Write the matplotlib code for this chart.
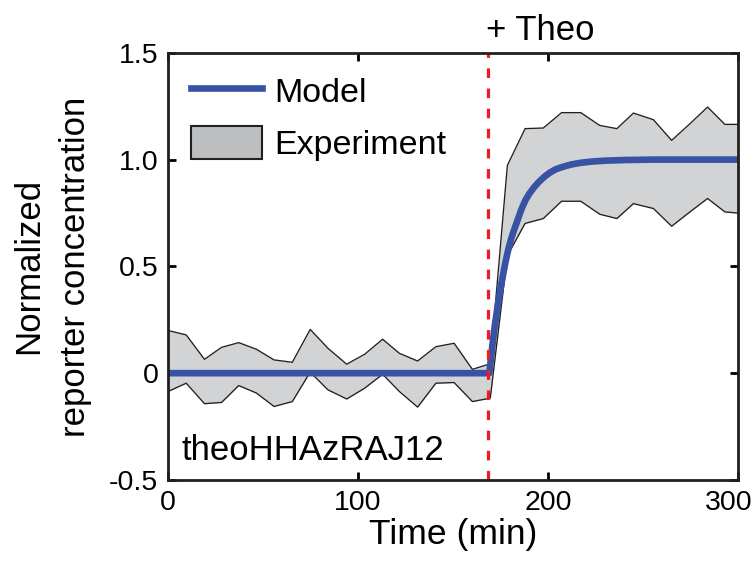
import matplotlib
matplotlib.use('Agg')
import matplotlib.pyplot as plt
import matplotlib.transforms as mtransforms
from matplotlib.patches import Patch
from matplotlib.lines import Line2D

plt.rcParams['font.family'] = ['Liberation Sans', 'DejaVu Sans']

# experiment band (mean +/- spread)
exp_time = [0, 9.6, 19.2, 28.2, 37.2, 46.5, 55.8, 65.4, 74.8, 84.1, 94.0, 103.5,
            112.9, 121.7, 131.3, 140.9, 150.5, 160.1, 169.5,
            178.5, 187.8, 197.4, 207.0, 217.1, 227.1, 236.1, 244.8, 255.3,
            264.9, 274.5, 283.8, 292.9, 302.0]
exp_upper = [0.200, 0.179, 0.065, 0.121, 0.143, 0.112, 0.062, 0.051, 0.205, 0.117,
             0.042, 0.089, 0.159, 0.093, 0.057, 0.124, 0.140, 0.018, 0.044,
             0.973, 1.145, 1.148, 1.220, 1.220, 1.160, 1.145, 1.218, 1.187,
             1.090, 1.168, 1.246, 1.165, 1.165]
exp_lower = [-0.086, -0.047, -0.143, -0.137, -0.058, -0.093, -0.156, -0.133, 0.005,
             -0.078, -0.121, -0.070, -0.005, -0.086, -0.159, -0.047, -0.044, -0.133,
             -0.117,
             0.55, 0.701, 0.724, 0.805, 0.805, 0.744, 0.724, 0.794, 0.771,
             0.688, 0.755, 0.818, 0.755, 0.748]

# model curve
model_time = [0, 169, 170, 171, 172, 173, 174, 175, 176, 177.5, 179, 180.5, 182,
              184, 186, 188, 190, 192.5, 195, 198, 201, 204, 208, 212, 217, 223,
              230, 240, 255, 300]
model_val = [0, 0, 0.08, 0.16, 0.23, 0.29, 0.35, 0.40, 0.45, 0.52, 0.58, 0.63,
             0.67, 0.72, 0.77, 0.81, 0.84, 0.87, 0.895, 0.92, 0.94, 0.955, 0.967,
             0.977, 0.985, 0.991, 0.995, 0.998, 1.0, 1.0]

theo_time = 168.5

fig = plt.figure(figsize=(7.56, 5.62), dpi=100)
ax = fig.add_axes([0.2222, 0.146, 0.7545, 0.76])

ax.fill_between(exp_time, exp_lower, exp_upper, color='#d1d3d4', lw=0)
ax.plot(exp_time, exp_upper, color='#231f20', lw=0.95)
ax.plot(exp_time, exp_lower, color='#231f20', lw=0.95)
ax.plot(model_time, model_val, color='#3953a4', lw=4.8, solid_capstyle='butt',
        solid_joinstyle='round')
ax.axvline(theo_time, color='#ed1c24', lw=2.3, dashes=(3.0, 3.3), clip_on=False)

ax.set_xlim(0, 300)
ax.set_ylim(-0.5, 1.5)
ax.set_xticks([0, 100, 200, 300])
ax.set_yticks([-0.5, 0, 0.5, 1.0, 1.5])
ax.set_yticklabels(['-0.5', '0', '0.5', '1.0', '1.5'])
ax.tick_params(direction='in', length=6, width=2, labelsize=20.5,
               top=True, right=True, pad=7)
for s in ax.spines.values():
    s.set_linewidth(2)
    s.set_color('#231f20')

# keep "300" inside the picture
last = ax.get_xticklabels()[-1]
last.set_transform(last.get_transform() +
                   mtransforms.ScaledTranslation(-7 / 72, 0, fig.dpi_scale_trans))

ax.set_xlabel('Time (min)', fontsize=25.5, labelpad=2)
ax.set_ylabel('Normalized\nreporter concentration', fontsize=25, labelpad=12,
              linespacing=1.55)

ax.text(theo_time - 1.5, 1.525, '+ Theo', fontsize=25, ha='left', va='bottom')
ax.text(0.023, 0.03, 'theoHHAzRAJ12', transform=ax.transAxes, fontsize=25,
        ha='left', va='bottom')

handles = [Line2D([], [], color='#3953a4', lw=4.8),
           Patch(facecolor='#bcbec0', edgecolor='#231f20', lw=1.5)]
ax.legend(handles, ['Model', 'Experiment'], loc='upper left', frameon=False,
          fontsize=24.5, handlelength=2.1, handleheight=1.1, labelspacing=0.5,
          handletextpad=0.35, borderaxespad=0.3, bbox_to_anchor=(-0.002, 1.006))

fig.savefig('out.png', dpi=100)
